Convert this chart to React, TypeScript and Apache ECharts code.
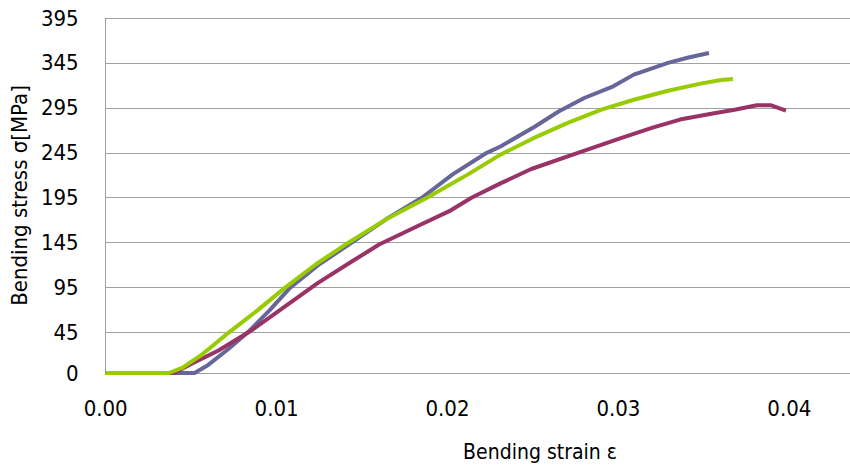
import React, { useEffect, useRef } from "react";
import * as echarts from "echarts";

// strain values (x) and stress values (y) per specimen
const blueStrain = [0, 0.0052, 0.006, 0.0072, 0.0083, 0.0096, 0.0108, 0.0125, 0.0144, 0.0164, 0.0185, 0.0203, 0.0223, 0.0231, 0.0251, 0.0265, 0.028, 0.0297, 0.0309, 0.0329, 0.0341, 0.0353];
const blueStress = [0, 0, 9, 27, 45, 70, 95, 121, 145, 171, 195, 221, 245, 252, 274, 291, 306, 319, 332, 345, 351, 356];

const magentaStrain = [0, 0.004, 0.005, 0.0066, 0.0085, 0.0105, 0.0124, 0.0144, 0.016, 0.0182, 0.0202, 0.0214, 0.0231, 0.0249, 0.0278, 0.0301, 0.032, 0.0336, 0.0356, 0.0368, 0.0381, 0.0389, 0.0398];
const magentaStress = [0, 0, 10, 25, 47, 74, 100, 124, 143, 163, 181, 195, 211, 227, 246, 261, 273, 282, 289, 293, 298, 298, 292];

const greenStrain = [0, 0.0037, 0.0045, 0.0056, 0.0072, 0.0089, 0.0105, 0.0123, 0.0142, 0.0165, 0.0188, 0.0212, 0.0231, 0.025, 0.027, 0.029, 0.0309, 0.0329, 0.0348, 0.036, 0.0367];
const greenStress = [0, 0, 6, 20, 45, 70, 95, 121, 145, 172, 195, 221, 243, 261, 278, 293, 304, 314, 322, 326, 327];

const xTicks = [0, 0.01, 0.02, 0.03, 0.04];
const yTicks = [0, 45, 95, 145, 195, 245, 295, 345, 395];

const xTitle = "Bending strain ε";
const yTitle = "Bending stress σ[MPa]";

const zip = (xs: number[], ys: number[]) => xs.map((x, i) => [x, ys[i]]);

const labelFont = "'Liberation Sans Narrow', 'Arial Narrow', 'DejaVu Sans Condensed', sans-serif";
const titleFont = "'DejaVu Sans Condensed', 'Noto Sans', sans-serif";

export default function App() {
  const ref = useRef<HTMLDivElement>(null);
  useEffect(() => {
    if (!ref.current) return;
    const chart = echarts.init(ref.current, null, { renderer: "svg" });
    const lineSeries = (name: string, color: string, xs: number[], ys: number[]) => ({
      name,
      type: "line",
      data: zip(xs, ys),
      showSymbol: false,
      symbol: "none",
      lineStyle: { color, width: 4 },
      itemStyle: { color },
    });
    chart.setOption({
      animation: false,
      backgroundColor: "#ffffff",
      grid: { left: 104, top: 18, right: 0, bottom: 93, containLabel: false },
      xAxis: {
        type: "value",
        min: 0,
        max: 0.04355,
        axisLine: { show: true, lineStyle: { color: "#a0a0a0", width: 1 } },
        axisTick: { show: false, customValues: xTicks },
        splitLine: { show: false },
        axisLabel: {
          customValues: xTicks,
          formatter: (v: number) => v.toFixed(2),
          color: "#000",
          fontFamily: labelFont,
          fontSize: 22,
          margin: 24,
        },
      },
      yAxis: {
        type: "value",
        min: 0,
        max: 395,
        name: yTitle,
        nameLocation: "middle",
        nameGap: 62,
        nameRotate: 90,
        nameTextStyle: { color: "#000", fontFamily: titleFont, fontSize: 22 },
        axisLine: { show: true, lineStyle: { color: "#a0a0a0", width: 1 } },
        axisTick: { show: false, customValues: yTicks },
        splitLine: { show: true, lineStyle: { color: "#a0a0a0", width: 1 } },
        axisLabel: {
          customValues: yTicks,
          color: "#000",
          fontFamily: labelFont,
          fontSize: 22,
          margin: 27,
        },
      },
      graphic: [
        {
          type: "text",
          x: 540,
          y: 452,
          style: {
            text: xTitle,
            fill: "#000",
            font: `21px ${titleFont}`,
            align: "center",
            verticalAlign: "middle",
          },
        },
      ],
      series: [
        lineSeries("Specimen 1", "#666699", blueStrain, blueStress),
        lineSeries("Specimen 2", "#993366", magentaStrain, magentaStress),
        lineSeries("Specimen 3", "#99CC00", greenStrain, greenStress),
      ],
    });
    return () => chart.dispose();
  }, []);
  return (
    <div
      ref={ref}
      style={{ position: "fixed", left: 0, top: 0, width: 850, height: 466 }}
    />
  );
}
